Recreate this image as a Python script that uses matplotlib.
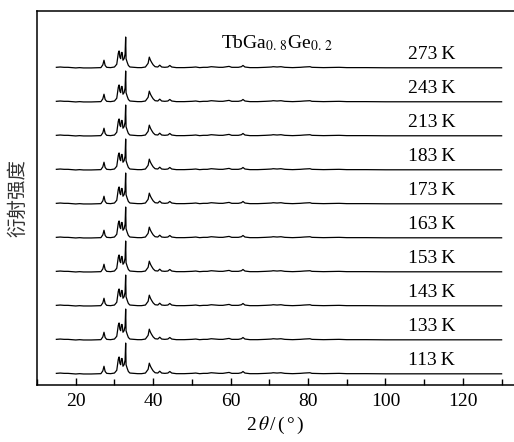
#!/usr/bin/env python3
"""
Stacked XRD patterns of TbGa0.8Ge0.2 at several temperatures.
"""

import matplotlib
matplotlib.use("Agg")
import matplotlib.pyplot as plt
from matplotlib.ticker import MultipleLocator

# Temperatures, bottom to top
temps = [113, 133, 143, 153, 163, 173, 183, 213, 243, 273]

# Pattern (2theta in deg, intensity in % of strongest peak)
two_theta = [15, 16, 17, 18, 19, 20, 21, 22, 24, 26.5, 27.0, 27.3, 27.6, 28, 29, 30,
             30.6, 31.0, 31.2, 31.4, 31.6, 31.8, 32.0, 32.2, 32.5, 32.75, 32.9, 33.0,
             33.3, 33.6, 34, 35, 36, 37, 38, 38.7, 39.0, 39.3, 39.6, 40, 40.5, 41.2,
             41.7, 42.2, 43, 43.8, 44.3, 44.8, 46, 48, 50, 51, 52, 53, 54, 55, 56, 57,
             58, 59.6, 60.3, 62, 62.8, 63.2, 63.7, 65, 67, 69, 70.5, 71, 72, 73, 74,
             76, 78, 79, 80.5, 81, 84, 88, 90, 95, 100, 110, 120, 130]
intensity = [2, 3, 2, 2, 1, 0, 1, 0, 0, 1, 10, 25, 8, 2, 1, 3,
             12, 48, 55, 35, 30, 50, 50, 25, 30, 45, 100, 30,
             18, 8, 3, 2, 1, 1, 3, 15, 35, 25, 18, 10, 4, 3,
             9, 3, 2, 3, 8, 3, 1, 1, 2, 3, 1, 2, 2, 4, 3, 2,
             2, 5, 2, 2, 4, 8, 3, 1, 1, 2, 3, 4, 3, 4, 2,
             1, 2, 3, 4, 2, 1, 2, 1, 1, 0.5, 0.5, 0.5, 0.5]

step = 110  # vertical offset between patterns

plt.rcParams["font.family"] = ["Liberation Serif", "DejaVu Serif"]
plt.rcParams["mathtext.fontset"] = "stix"

fig = plt.figure(figsize=(5.14, 4.42), dpi=100)
ax = fig.add_axes([0.072, 0.129, 0.928, 0.846])

for i, t in enumerate(temps):
    off = i * step
    ax.plot(two_theta, [v + off for v in intensity], color="black", lw=0.9)
    ax.text(118, off + 42, f"{t}\u2009K", ha="right", va="center", fontsize=14)

ax.text(57.5, 1070, r"TbGa$_{\mathrm{0.\,8}}$Ge$_{\mathrm{0.\,2}}$",
        ha="left", va="center", fontsize=14)

ax.set_xlim(10, 133.2)
ax.set_ylim(-35.6, 1174)
ax.xaxis.set_major_locator(MultipleLocator(20))
ax.xaxis.set_minor_locator(MultipleLocator(10))
ax.set_yticks([])
ax.tick_params(axis="x", which="major", direction="in", length=5, width=1.0,
               labelsize=14, pad=6)
ax.tick_params(axis="x", which="minor", direction="in", length=4, width=1.0)
ax.spines["right"].set_visible(False)
for s in ("left", "top", "bottom"):
    ax.spines[s].set_linewidth(1.1)

ax.set_xlabel(r"2$\,\theta\,$/$\,$($\,$°$\,$)", fontsize=14, labelpad=3)
ax.set_ylabel("衍射强度", fontsize=14, family=["Noto Sans CJK SC", "DejaVu Sans"],
              color="#333333", labelpad=6)

fig.savefig("out.png", dpi=100)
